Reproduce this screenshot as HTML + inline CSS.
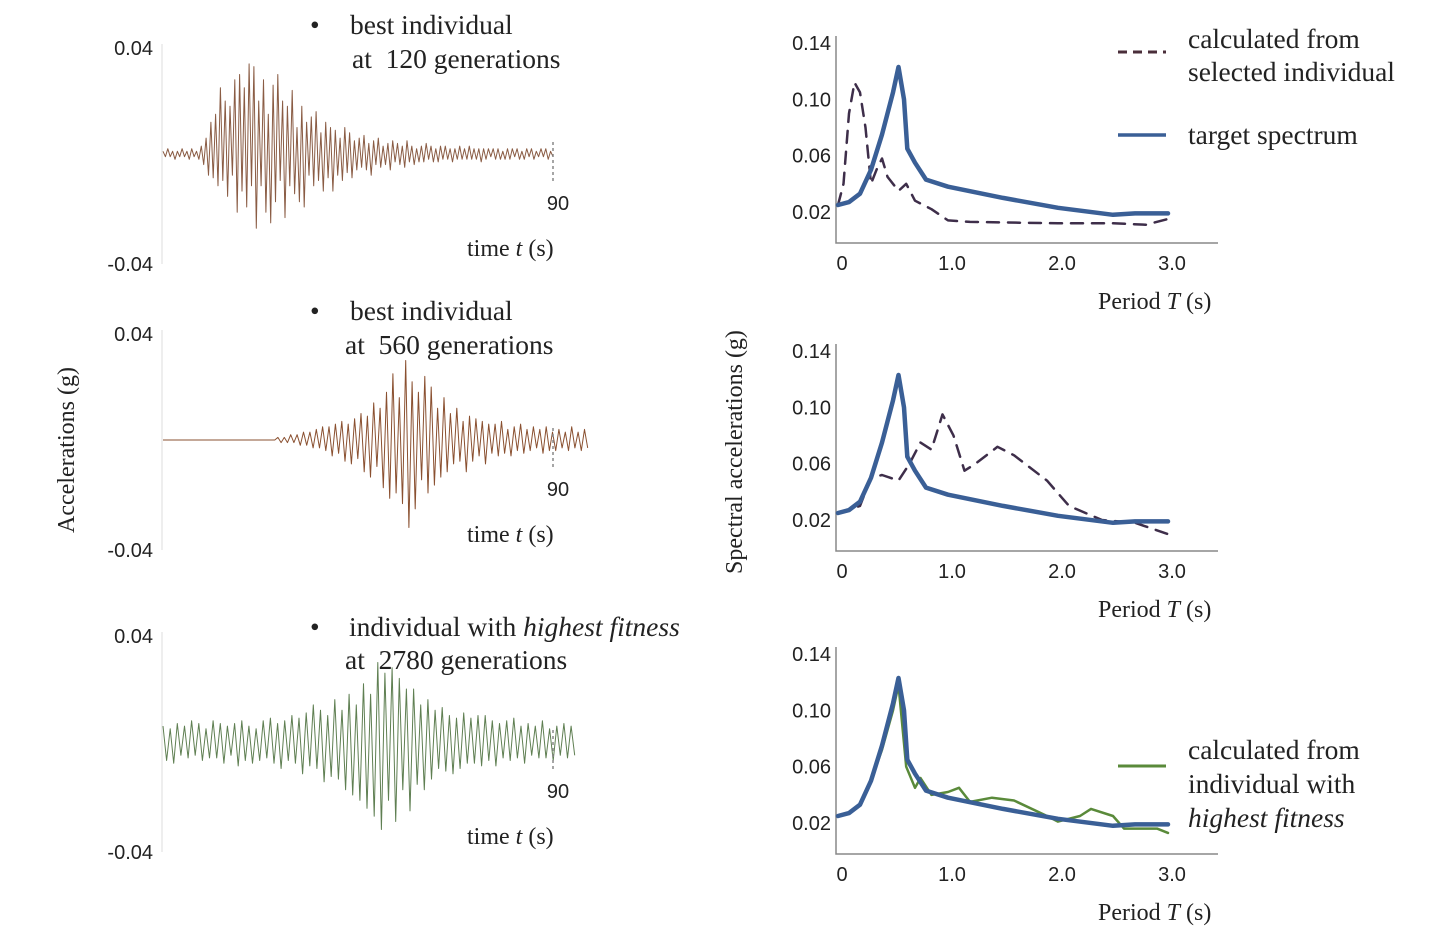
<!DOCTYPE html>
<html><head><meta charset="utf-8">
<style>
html,body{margin:0;padding:0;background:#fff;}
svg{display:block;}
.tk{font-family:"Liberation Sans",sans-serif;font-size:20px;fill:#222;}
.sf{font-family:"Liberation Serif",serif;font-size:27.5px;fill:#222;}
.sf2{font-family:"Liberation Serif",serif;font-size:24px;fill:#222;}
</style></head>
<body>
<svg id="fig" width="1435" height="943" viewBox="0 0 1435 943">
<g id="static">
<text class="sf2" transform="translate(74,450) rotate(-90)" text-anchor="middle">Accelerations (g)</text>
<text class="sf2" transform="translate(742,452) rotate(-90)" text-anchor="middle">Spectral accelerations (g)</text>
<text class="sf" x="310" y="34">•</text>
<text class="sf" x="350" y="34">best individual</text>
<text class="sf" x="352" y="68">at&#160; 120 generations</text>
<text class="sf" x="310" y="320">•</text>
<text class="sf" x="350" y="320">best individual</text>
<text class="sf" x="345" y="354">at&#160; 560 generations</text>
<text class="sf" x="310" y="636">•</text>
<text class="sf" x="349" y="636">individual with <tspan font-style="italic">highest fitness</tspan></text>
<text class="sf" x="345" y="669">at&#160; 2780 generations</text>
<line x1="1118" y1="52" x2="1166" y2="52" stroke="#4a2e3a" stroke-width="3" stroke-dasharray="9,6"/>
<text class="sf" x="1188" y="48">calculated from</text>
<text class="sf" x="1188" y="81">selected individual</text>
<line x1="1118" y1="135" x2="1166" y2="135" stroke="#3a5f96" stroke-width="3.5"/>
<text class="sf" x="1188" y="144">target spectrum</text>
<line x1="1118" y1="766" x2="1166" y2="766" stroke="#5a8a3a" stroke-width="3"/>
<text class="sf" x="1188" y="759">calculated from</text>
<text class="sf" x="1188" y="793">individual with</text>
<text class="sf" x="1188" y="827" font-style="italic">highest fitness</text>
</g>
</svg>
<script>
var w1 = [1,-1,2,-1,1,-2,1,-1,2,-1,1,-2,2,-1,1,-2,3,-4,6,-8,12,-9,15,-12,25,-10,20,-16,18,-8,28,-22,30,-14,25,-20,34,-12,33,-28,20,-12,28,-22,15,-26,26,-18,30,-10,20,-24,18,-12,24,-15,10,-18,18,-20,12,-8,14,-12,16,-10,8,-14,12,-9,10,-14,9,-8,6,-10,10,-7,8,-9,5,-6,6,-5,7,-6,4,-8,5,-4,6,-5,3,-4,4,-6,5,-3,4,-4,3,-5,5,-3,3,-4,2,-3,3,-3,4,-2,3,-3,2,-3,3,-2,3,-2,2,-3,2,-2,3,-2,2,-2,3,-2,2,-2,2,-3,2,-2,2,-1,2,-2,2,-2,1,-2,2,-2,2,-1,2,-2,1,-2,2,-1,2,-2,1,-1,2,-1,2,-2,1,-1];
var w2 = [0,0,0,0,0,0,0,0,0,0,0,0,0,0,0,0,0,0,0,0,0,0,0,0,0,0,0,0,0,0,0,0,0,0,0,0,1,-1,1,-1,2,-1,2,-2,3,-2,3,-3,4,-3,5,-4,5,-6,6,-5,7,-8,6,-9,8,-7,10,-12,9,-14,14,-10,12,-18,18,-22,25,-20,16,-24,30,-33,22,-26,18,-15,24,-20,20,-17,12,-14,16,-12,10,-9,12,-8,7,-12,9,-8,8,-6,7,-9,6,-5,6,-6,7,-5,4,-6,5,-4,6,-5,4,-4,5,-3,4,-5,5,-4,3,-4,4,-3,3,-4,5,-3,3,-4,4,-3];
var w3 = [6,-7,5,-8,7,-5,6,-6,8,-5,7,-7,5,-6,8,-6,7,-8,6,-5,7,-9,8,-7,6,-8,5,-7,8,-6,9,-8,7,-10,8,-7,10,-8,9,-12,11,-9,14,-10,12,-15,10,-13,16,-14,12,-18,18,-20,14,-22,22,-25,18,-28,30,-33,26,-22,28,-30,24,-18,20,-26,20,-16,14,-18,16,-14,12,-10,13,-11,10,-12,9,-10,11,-8,9,-8,10,-9,10,-7,8,-9,7,-6,8,-7,9,-6,6,-8,7,-5,6,-6,8,-6,5,-7,6,-5,7,-6,6,-5];
var tgtT = [0,0.1,0.2,0.3,0.4,0.5,0.55,0.6,0.63,0.7,0.8,1.0,1.5,2.0,2.5,2.7,3.0];
var tgtA = [0.025,0.027,0.033,0.05,0.075,0.105,0.123,0.10,0.065,0.055,0.043,0.038,0.03,0.023,0.018,0.019,0.019];
var d1T = [0,0.05,0.1,0.15,0.2,0.25,0.3,0.35,0.4,0.45,0.55,0.62,0.7,0.85,1.0,1.2,2.0,2.5,2.8,3.0];
var d1A = [0.025,0.04,0.09,0.112,0.105,0.08,0.04,0.05,0.058,0.045,0.035,0.04,0.028,0.022,0.014,0.013,0.012,0.012,0.011,0.015];
var d2T = [0,0.2,0.3,0.4,0.55,0.65,0.75,0.85,0.95,1.05,1.15,1.25,1.45,1.6,1.9,2.1,2.4,2.7,3.0];
var d2A = [0.025,0.03,0.05,0.052,0.048,0.06,0.075,0.07,0.095,0.08,0.055,0.06,0.072,0.066,0.048,0.03,0.02,0.018,0.01];
var gT = [0,0.1,0.2,0.3,0.4,0.5,0.55,0.62,0.7,0.75,0.85,1.0,1.1,1.2,1.4,1.6,1.9,2.0,2.2,2.3,2.5,2.6,2.9,3.0];
var gA = [0.025,0.027,0.033,0.05,0.072,0.1,0.118,0.06,0.045,0.052,0.04,0.042,0.045,0.035,0.038,0.036,0.025,0.021,0.025,0.03,0.025,0.016,0.016,0.013];
var yTicks = ["0.14","0.10","0.06","0.02"];
var yTickVals = [0.14,0.10,0.06,0.02];
var xTicks = ["0","1.0","2.0","3.0"];
var xTickVals = [0,1,2,3];

var NS = "http://www.w3.org/2000/svg";
var svg = document.getElementById("fig");
function mk(tag, attrs, parent){var e=document.createElementNS(NS,tag);for(var k in attrs)e.setAttribute(k,attrs[k]);(parent||svg).appendChild(e);return e;}

function wave(data, cy, x0, x1, tMax, color, name){
  var g = mk("g",{});
  
  
  var ax = mk("line",{x1:162,y1:cy-110,x2:162,y2:cy+110,stroke:"#ddd","stroke-width":1},g);
  
  
  var t1 = mk("text",{x:153,y:cy-99,"text-anchor":"end","class":"tk"},g); t1.textContent="0.04";
  
  
  var t2 = mk("text",{x:153,y:cy+117,"text-anchor":"end","class":"tk"},g); t2.textContent="-0.04";
  
  
  var xs = function(t){return x0 + t/90*(553-163);};
  var ys = function(v){return cy - v/40*106;};
  var pts=[];
  for(var i=0;i<data.length;i++){pts.push(xs(i/(data.length-1)*tMax).toFixed(1)+","+ys(data[i]).toFixed(1));}
  var p = mk("polyline",{points:pts.join(" "),fill:"none",stroke:color,"stroke-width":1,"stroke-linejoin":"round"},g);
  
  
  var m = mk("line",{x1:xs(90),y1:cy-12,x2:xs(90),y2:cy+28,stroke:"#888","stroke-width":1.5,"stroke-dasharray":"3,3"},g);
  
  
  var l = mk("text",{x:xs(90)+5,y:cy+56,"text-anchor":"middle","class":"tk"},g); l.textContent="90";
  
  
  var tt = mk("text",{x:467,y:cy+102,"class":"sf2"},g);
  tt.innerHTML = 'time <tspan font-style="italic">t</tspan> (s)';
  
  
}
wave(w1,154,163,553,90,"#8a5c44","waveform-120");
wave(w2,440,163,593,98,"#8a5030","waveform-560");
wave(w3,742,163,580,95,"#5f7f52","waveform-2780");

function spec(off, series, name){
  var g = mk("g",{});
  
  
  var xs = function(T){return 838 + T*110;};
  var ys = function(a){return 212+off - (a-0.02)/0.04*56.3;};
  var ax = mk("polyline",{points:"836,"+(36+off)+" 836,"+(243+off)+" 1218,"+(243+off),fill:"none",stroke:"#888","stroke-width":1.5},g);
  
  
  for(var i=0;i<yTicks.length;i++){
    var t = mk("text",{x:831,y:ys(yTickVals[i])+7,"text-anchor":"end","class":"tk"},g); t.textContent=yTicks[i];
    
    
  }
  for(var j=0;j<xTicks.length;j++){
    var u = mk("text",{x:xs(xTickVals[j])+4,y:270+off,"text-anchor":"middle","class":"tk"},g); u.textContent=xTicks[j];
    
    
  }
  var xt = mk("text",{x:1098,y:309+off,"class":"sf2"},g);
  xt.innerHTML='Period <tspan font-style="italic">T</tspan> (s)';
  
  
  series.forEach(function(s){
    var pts=[];
    for(var k=0;k<s.T.length;k++) pts.push(xs(s.T[k]).toFixed(1)+","+ys(s.A[k]).toFixed(1));
    var a={points:pts.join(" "),fill:"none",stroke:s.c,"stroke-width":s.w,"stroke-linejoin":"round","stroke-linecap":"round"};
    if(s.dash) a["stroke-dasharray"]=s.dash;
    var p = mk("polyline",a,g);
    
    
  });
}
spec(0,[{T:d1T,A:d1A,c:"#3e2e4a",w:2.5,dash:"12,9",n:"calculated-line"},{T:tgtT,A:tgtA,c:"#3a5f96",w:4.5,n:"target-line"}],"spectrum-120");
spec(308,[{T:d2T,A:d2A,c:"#3e2e4a",w:2.5,dash:"12,9",n:"calculated-line"},{T:tgtT,A:tgtA,c:"#3a5f96",w:4.5,n:"target-line"}],"spectrum-560");
spec(611,[{T:gT,A:gA,c:"#5a8a3a",w:2.5,n:"green-line"},{T:tgtT,A:tgtA,c:"#3a5f96",w:4.5,n:"target-line"}],"spectrum-2780");
</script>
</body></html>
